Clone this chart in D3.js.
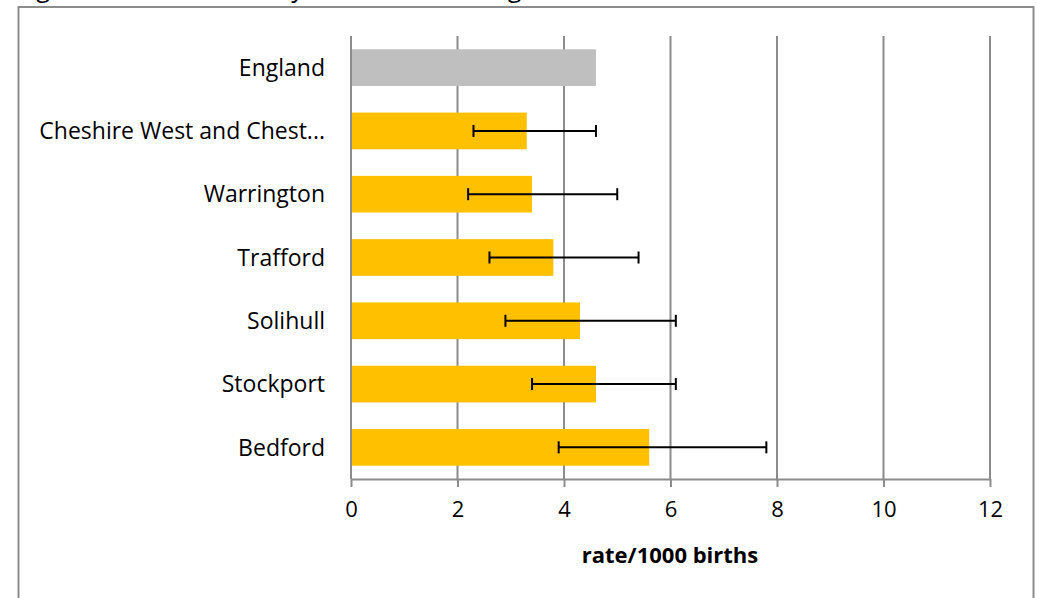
<!DOCTYPE html>
<html><head><meta charset="utf-8">
<script src="https://cdn.jsdelivr.net/npm/d3@7"></script>
<style>body{margin:0;background:#fff}svg{display:block}</style>
</head><body>
<script>
const categories = ["England","Cheshire West and Chest...","Warrington","Trafford","Solihull","Stockport","Bedford"];
const rates = [4.6, 3.3, 3.4, 3.8, 4.3, 4.6, 5.6];
const lowerCI = [null, 2.3, 2.2, 2.6, 2.9, 3.4, 3.9];
const upperCI = [null, 4.6, 5.0, 5.4, 6.1, 6.1, 7.8];
const xTicks = [0, 2, 4, 6, 8, 10, 12];
const xTitle = "rate/1000 births";
const title = "Figure 3: Infant mortality rate 2011 and England";

const W = 1037, H = 598;
const font = "Open Sans, sans-serif";
const svg = d3.select("body").append("svg").attr("width", W).attr("height", H);

svg.append("text").attr("x", 17).attr("y", -3).attr("font-family", font).attr("font-size", 25).text(title);
svg.append("rect").attr("x", 18.5).attr("y", 7).attr("width", 1015).attr("height", 620)
  .attr("fill", "none").attr("stroke", "#8c8c8c").attr("stroke-width", 2);

const x = d3.scaleLinear().domain([0, 12]).range([351, 990]);
const y = d3.scaleBand().domain(categories).range([36, 479]).paddingInner(0.42).paddingOuter(0.21);

// grid
svg.append("g").selectAll("line").data(xTicks).join("line")
  .attr("x1", d => x(d)).attr("x2", d => x(d)).attr("y1", 36).attr("y2", 479)
  .attr("stroke", "#8c8c8c").attr("stroke-width", 2);

// bars
svg.append("g").selectAll("rect").data(categories).join("rect")
  .attr("x", x(0) + 1).attr("y", d => y(d))
  .attr("width", (d, i) => x(rates[i]) - x(0) - 1).attr("height", y.bandwidth())
  .attr("fill", (d, i) => i === 0 ? "#BFBFBF" : "#FFC000");

// error bars
const eg = svg.append("g").attr("stroke", "#000").attr("stroke-width", 2);
categories.forEach((c, i) => {
  if (lowerCI[i] == null) return;
  const cy = y(c) + y.bandwidth() / 2;
  eg.append("line").attr("x1", x(lowerCI[i])).attr("x2", x(upperCI[i])).attr("y1", cy).attr("y2", cy);
  [lowerCI[i], upperCI[i]].forEach(v => eg.append("line").attr("x1", x(v)).attr("x2", x(v)).attr("y1", cy - 6).attr("y2", cy + 6));
});

// x axis
const xa = svg.append("g").attr("transform", "translate(0,479)")
  .call(d3.axisBottom(x).tickValues(xTicks).tickSize(8).tickPadding(14).tickSizeOuter(0));
xa.select(".domain").attr("stroke", "#8c8c8c").attr("stroke-width", 2);
xa.selectAll(".tick line").attr("stroke", "#8c8c8c").attr("stroke-width", 2);
xa.selectAll(".tick text").attr("font-family", font).attr("font-size", 22).attr("fill", "#000");

// y labels
svg.append("g").selectAll("text").data(categories).join("text")
  .attr("x", 325).attr("y", d => y(d) + y.bandwidth() / 2).attr("dy", "0.36em")
  .attr("text-anchor", "end").attr("font-family", font).attr("font-size", 23).attr("fill", "#000")
  .text(d => d);

svg.append("text").attr("x", 670).attr("y", 563).attr("text-anchor", "middle")
  .attr("font-family", font).attr("font-size", 22).attr("font-weight", "bold").text(xTitle);
</script>
</body></html>
